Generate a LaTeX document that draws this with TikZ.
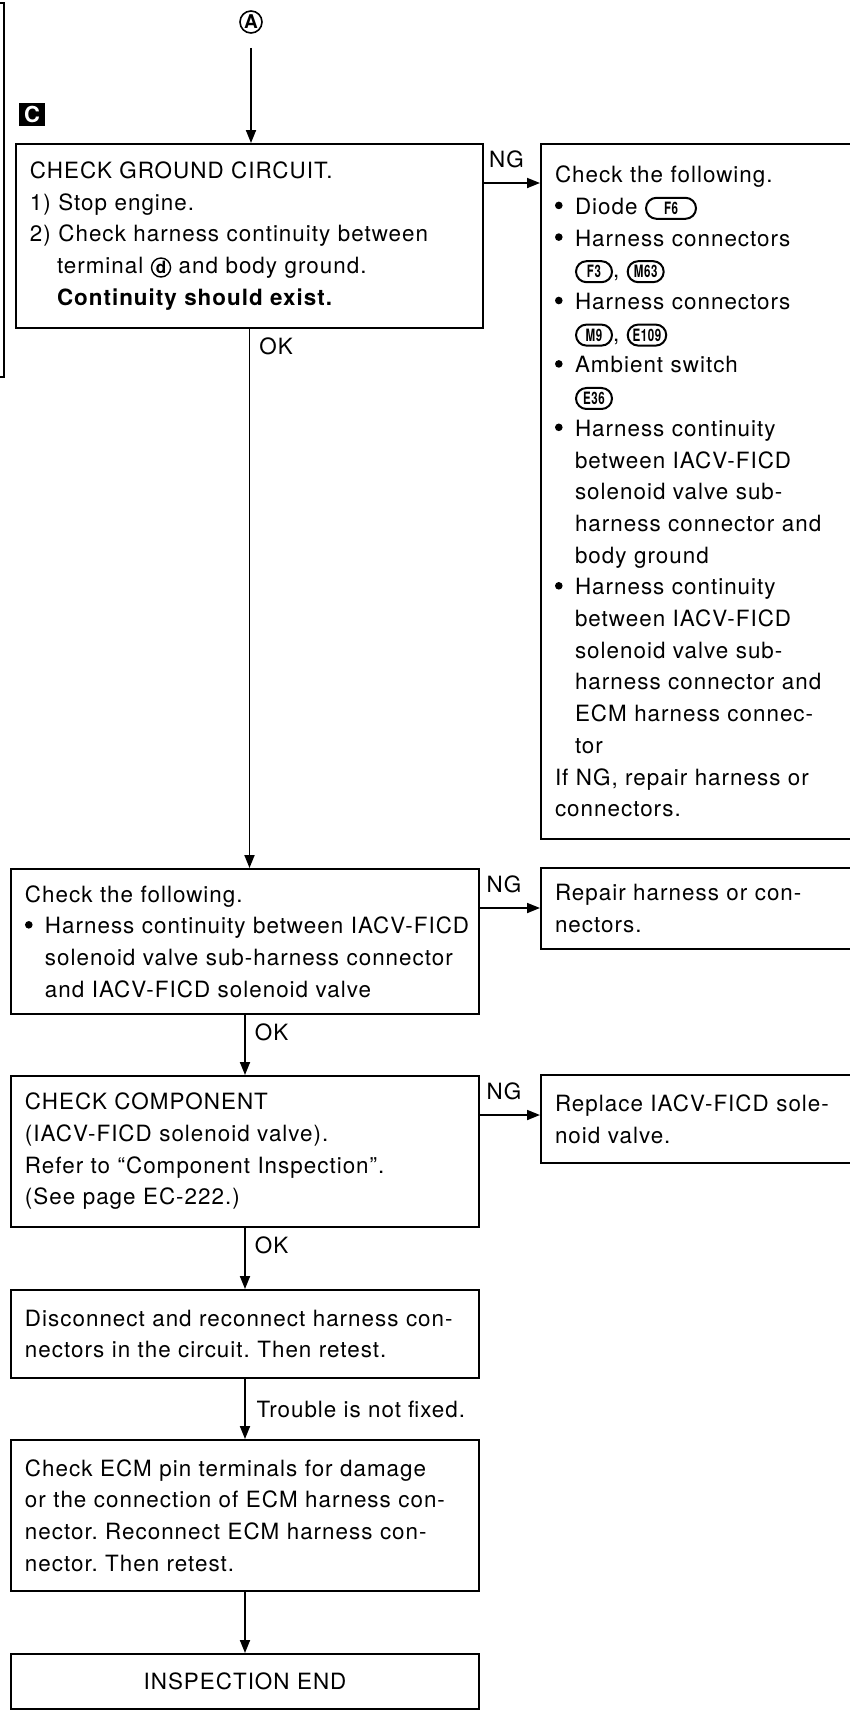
\documentclass[tikz,border=0pt]{standalone}
\usepackage{fontspec}
\setmainfont{TeX Gyre Heros}[LetterSpace=4.5]
\usepackage{graphicx}
\usetikzlibrary{arrows.meta,calc,positioning}

\newcommand\txt{\fontsize{11.2pt}{15.85pt}\selectfont\frenchspacing}
\newlength\bulw
\setlength\bulw{10pt}
\newcommand\bul{\makebox[\bulw][l]{\raisebox{2.6pt}{\tikz\fill (0,0) circle (1.9pt);}}}
\newcommand\ind{\hspace*{\bulw}}
% connector symbol and circled terminal, set inline
\newcommand\harn[2][18pt]{\tikz[baseline=(h#2.base)]\node[harn,minimum width=#1](h#2){\scalebox{0.68}[1]{#2}};}
\newcommand\term[1]{\tikz[baseline=(t#1.base)]\node[termc](t#1){#1};}

\begin{document}
\begin{tikzpicture}[x=0.5pt,y=-0.5pt,
  box/.style={draw, line width=1pt, anchor=north west, inner xsep=7pt, inner ysep=0pt, align=left, font=\txt},
  main/.style={box, text width=220pt},
  side/.style={box, text width=151pt},
  flow/.style={line width=0.9pt, -{Triangle[length=6.5pt,width=5pt]}},
  okl/.style={pos=0, anchor=north west, inner sep=2pt, xshift=2.5pt, yshift=-2pt, font=\txt},
  ngl/.style={pos=0.4, above, inner sep=1pt, yshift=6pt, font=\txt},
  harn/.style={draw, line width=1pt, rounded corners=5.25pt, minimum height=10.5pt, inner xsep=2.5pt, inner ysep=0.5pt, text width={}, align=center, font=\bfseries\fontsize{8.5pt}{9pt}\selectfont},
  termc/.style={circle, draw, line width=0.7pt, minimum size=9.5pt, inner sep=0pt, text width={}, align=center, font=\bfseries\fontsize{8.5pt}{9pt}\selectfont}]
\useasboundingbox (0,0) rectangle (850,1710);
\clip (0,0) rectangle (850,1710);

% entry point and section tag
\node[circle, draw, line width=0.8pt, minimum size=11pt, inner sep=0pt, font=\bfseries\fontsize{9.5pt}{9.5pt}\selectfont] (entryA) at (251,22) {A};
\node[fill=black, text=white, minimum width=13pt, minimum height=11.5pt, inner sep=0pt, font=\bfseries\fontsize{11pt}{11pt}\selectfont] (tagC) at (32,114.5) {C};
\draw[line width=1pt] (0,3) -- (4,3) -- (4,377) -- (0,377);

% main column
\node[main, text width=219.5pt, minimum height=92pt] (gndchk) at (15,143)
  {CHECK GROUND CIRCUIT.\\
   1) Stop engine.\\
   2) Check harness continuity between\\
   \hspace*{13.5pt}terminal \term{d} and body ground.\\
   \hspace*{13.5pt}\textbf{Continuity should exist.}};
\node[main, minimum height=72.5pt] (contchk) at (10,868)
  {Check the following.\\
   \mbox{\bul Harness continuity between IACV-FICD}\\
   \ind solenoid valve sub-harness connector\\
   \ind and IACV-FICD solenoid valve};
\node[main, minimum height=75.5pt] (compchk) at (10,1075)
  {CHECK COMPONENT\\
   (IACV-FICD solenoid valve).\\
   Refer to ``Component Inspection''.\\
   (See page EC-222.)};
\node[main, minimum height=44pt] (reconn) at (10,1289)
  {\mbox{Disconnect and reconnect harness con-}\\
   nectors in the circuit. Then retest.};
\node[main, minimum height=75.5pt] (ecmchk) at (10,1439)
  {Check ECM pin terminals for damage\\
   \mbox{or the connection of ECM harness con-}\\
   nector. Reconnect ECM harness con-\\
   nector. Then retest.};
\node[main, align=center, minimum height=27.5pt] (inspend) at (10,1653) {INSPECTION END};

% NG column
\node[side, minimum height=347.5pt] (nglist) at (540,143)
  {Check the following.\\
   \bul Diode \harn[25pt]{F6}\\
   \bul Harness connectors\\
   \ind\harn{F3}, \harn{M63}\\
   \bul Harness connectors\\
   \ind\harn{M9}, \harn{E109}\\
   \bul Ambient switch\\
   \ind\harn{E36}\\
   \bul Harness continuity\\
   \ind between IACV-FICD\\
   \ind solenoid valve sub-\\
   \ind harness connector and\\
   \ind body ground\\
   \bul Harness continuity\\
   \ind between IACV-FICD\\
   \ind solenoid valve sub-\\
   \ind harness connector and\\
   \ind ECM harness connec-\\
   \ind tor\\
   If NG, repair harness or\\
   connectors.};
\node[side, minimum height=40.5pt] (repair) at (540,867)
  {Repair harness or con-\\
   nectors.};
\node[side, minimum height=44pt] (replace) at (540,1074)
  {Replace IACV-FICD sole-\\
   noid valve.};

% connectors
\draw[flow, shorten <=7pt] (entryA) -- (entryA |- gndchk.north);
\draw[flow] (gndchk.south) -- (gndchk.south |- contchk.north) node[okl] (ok1) {OK};
\draw[flow] (contchk.south) -- (compchk.north) node[okl] (ok2) {OK};
\draw[flow] (compchk.south) -- (reconn.north) node[okl] (ok3) {OK};
\draw[flow] (reconn.south) -- (ecmchk.north) node[midway, right=2pt, font=\txt] (notfixed) {Trouble is not fixed.};
\draw[flow] (ecmchk.south) -- (inspend.north);

\coordinate (ng1) at ([yshift=-20pt]gndchk.north east);
\coordinate (ng2) at ([yshift=-20pt]contchk.north east);
\coordinate (ng3) at ([yshift=-20pt]compchk.north east);
\draw[flow] (ng1) -- (ng1 -| nglist.west) node[ngl] (nga) {NG};
\draw[flow] (ng2) -- (ng2 -| repair.west) node[ngl] (ngb) {NG};
\draw[flow] (ng3) -- (ng3 -| replace.west) node[ngl] (ngc) {NG};
\end{tikzpicture}
\end{document}
